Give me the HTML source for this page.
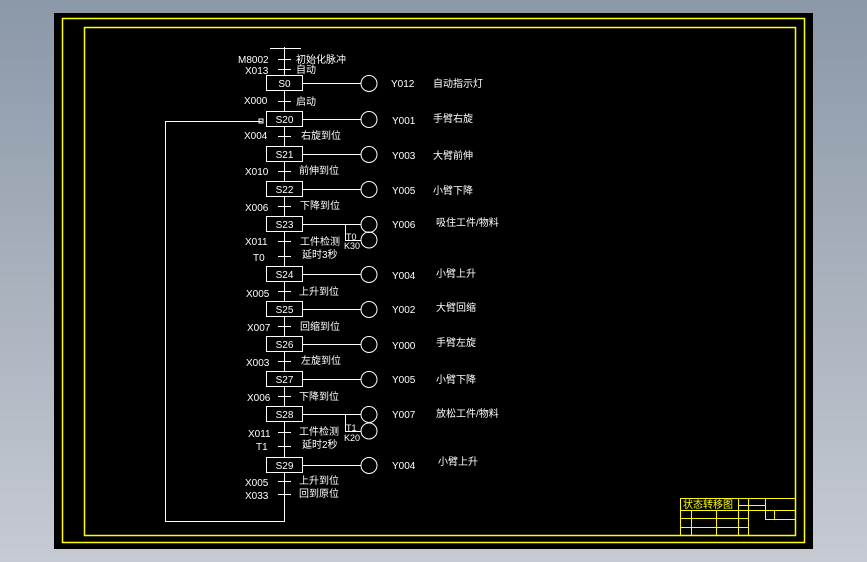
<!DOCTYPE html>
<html><head><meta charset="utf-8"><style>
html,body{margin:0;padding:0;width:867px;height:562px;overflow:hidden;background:linear-gradient(#8b98a8,#c6cad2);}
svg{position:absolute;left:0;top:0}
text{font-family:"Liberation Sans","Noto Sans CJK SC",sans-serif;fill:#fff;font-size:10px}
</style></head><body>
<svg width="867" height="562" viewBox="0 0 867 562">
<rect x="54" y="13" width="759" height="536" fill="#000"/>
<rect x="62.5" y="18.5" width="742" height="524" fill="none" stroke="#ff0" stroke-width="1.5"/>
<rect x="84.5" y="27.5" width="711" height="508" fill="none" stroke="#ff0" stroke-width="1.5"/>
<g stroke="#fff" stroke-width="1" fill="none">
<line x1="284.5" y1="47" x2="284.5" y2="522"/>
<line x1="270" y1="48.5" x2="301" y2="48.5"/>
<path d="M284.5 521.5H165.5V121.5H262"/>
<rect x="259" y="119" width="4" height="4"/>
</g>
<g id="steps"></g>
<text x="238" y="63">M8002</text><text x="296" y="63">初始化脉冲</text>
<text x="245" y="74">X013</text><text x="296" y="73">自动</text>
<text x="244" y="104">X000</text><text x="296" y="105">启动</text>
<text x="244" y="139">X004</text><text x="301" y="139">右旋到位</text>
<text x="245" y="175">X010</text><text x="299" y="174">前伸到位</text>
<text x="245" y="211">X006</text><text x="300" y="209">下降到位</text>
<text x="245" y="245">X011</text><text x="300" y="245">工件检测</text>
<text x="253" y="261">T0</text><text x="302" y="258">延时3秒</text>
<text x="246" y="297">X005</text><text x="299" y="295">上升到位</text>
<text x="247" y="331">X007</text><text x="300" y="330">回缩到位</text>
<text x="246" y="366">X003</text><text x="301" y="364">左旋到位</text>
<text x="247" y="401">X006</text><text x="299" y="400">下降到位</text>
<text x="248" y="437">X011</text><text x="299" y="435">工件检测</text>
<text x="256" y="450">T1</text><text x="302" y="448">延时2秒</text>
<text x="245" y="486">X005</text><text x="299" y="484">上升到位</text>
<text x="245" y="499">X033</text><text x="299" y="497">回到原位</text>
<text x="391" y="87">Y012</text><text x="433" y="87">自动指示灯</text>
<text x="392" y="124">Y001</text><text x="433" y="122">手臂右旋</text>
<text x="392" y="159">Y003</text><text x="433" y="159">大臂前伸</text>
<text x="392" y="194">Y005</text><text x="433" y="194">小臂下降</text>
<text x="392" y="228">Y006</text><text x="436" y="226">吸住工件/物料</text>
<text x="392" y="279">Y004</text><text x="436" y="277">小臂上升</text>
<text x="392" y="313">Y002</text><text x="436" y="311">大臂回缩</text>
<text x="392" y="349">Y000</text><text x="436" y="346">手臂左旋</text>
<text x="392" y="383">Y005</text><text x="436" y="383">小臂下降</text>
<text x="392" y="418">Y007</text><text x="436" y="417">放松工件/物料</text>
<text x="392" y="469">Y004</text><text x="438" y="465">小臂上升</text>
<text x="346" y="240" style="font-size:9px">T0</text><text x="344" y="249" style="font-size:9px">K30</text>
<text x="346" y="431" style="font-size:9px">T1</text><text x="344" y="441" style="font-size:9px">K20</text>
<g stroke="#fff" fill="none">
<path d="M345.5 224V240.5H361"/><circle cx="369" cy="240" r="8"/>
<path d="M345.5 414V431.5H361"/><circle cx="369" cy="431" r="8"/>
</g>
<g stroke="#ff0" fill="none" stroke-width="1">
<rect x="680.5" y="498.5" width="115" height="37"/>
<line x1="680" y1="510.5" x2="795" y2="510.5"/>
<line x1="680" y1="518.5" x2="748" y2="518.5"/>
<line x1="680" y1="527.5" x2="748" y2="527.5"/>
<line x1="691.5" y1="510" x2="691.5" y2="535"/>
<line x1="716.5" y1="510" x2="716.5" y2="535"/>
<line x1="738.5" y1="498" x2="738.5" y2="535"/>
<line x1="748.5" y1="498" x2="748.5" y2="535"/>
<line x1="765.5" y1="498" x2="765.5" y2="520"/>
<line x1="738" y1="505.5" x2="765" y2="505.5"/>
<line x1="765" y1="519.5" x2="795" y2="519.5"/>
<line x1="774.5" y1="510" x2="774.5" y2="519"/>
</g>
<text x="683" y="508" style="fill:#ff0;font-size:10px">状态转移图</text>
</svg>
<script>
var g=document.getElementById('steps'),ns='http://www.w3.org/2000/svg';
var boxes=[[75,'S0'],[111,'S20'],[146,'S21'],[181,'S22'],[216,'S23'],[266,'S24'],[301,'S25'],[336,'S26'],[371,'S27'],[406,'S28'],[457,'S29']];
var s='';
boxes.forEach(function(b){var y=b[0];
s+='<rect x="266.5" y="'+(y+.5)+'" width="36" height="15" fill="#000" stroke="#fff"/>';
s+='<text x="284.5" y="'+(y+12)+'" text-anchor="middle">'+b[1]+'</text>';
s+='<line x1="302" y1="'+(y+8.5)+'" x2="361" y2="'+(y+8.5)+'" stroke="#fff"/>';
s+='<circle cx="369" cy="'+(y+8.5)+'" r="8" fill="none" stroke="#fff"/>';});
[59,69,101,136,171,206,241,256,291,326,361,396,432,446,481,494].forEach(function(y){
s+='<line x1="278" y1="'+(y+.5)+'" x2="291" y2="'+(y+.5)+'" stroke="#fff"/>';});
g.innerHTML=s;
</script>
</body></html>
